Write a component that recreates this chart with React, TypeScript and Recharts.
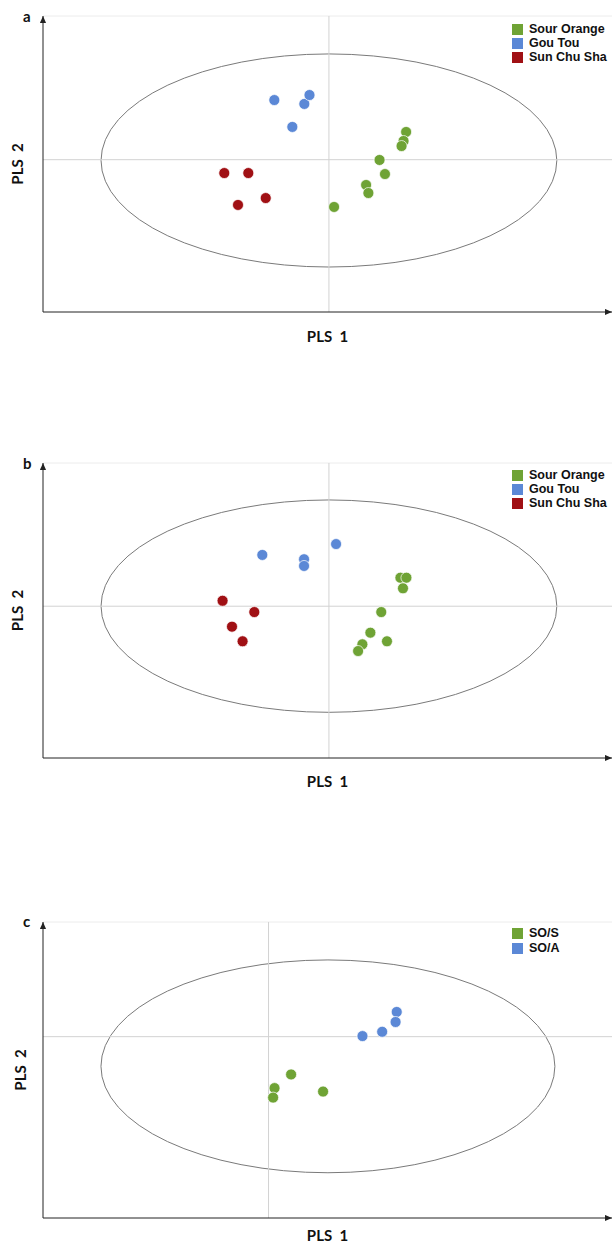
import React from 'react';
import {
  ScatterChart,
  Scatter,
  XAxis,
  YAxis,
  ReferenceLine,
  ReferenceArea,
} from 'recharts';

// panel a
const sourOrangeA = [
  { x: 0.27, y: 0.193 }, { x: 0.261, y: 0.13 }, { x: 0.254, y: 0.095 }, { x: 0.177, y: -0.002 },
  { x: 0.196, y: -0.1 }, { x: 0.13, y: -0.176 }, { x: 0.138, y: -0.232 }, { x: 0.018, y: -0.329 },
];
const gouTouA = [
  { x: -0.191, y: 0.415 }, { x: -0.086, y: 0.388 }, { x: -0.068, y: 0.45 }, { x: -0.128, y: 0.228 },
];
const sunChuShaA = [
  { x: -0.366, y: -0.093 }, { x: -0.282, y: -0.093 }, { x: -0.221, y: -0.267 }, { x: -0.318, y: -0.315 },
];

// panel b
const sourOrangeB = [
  { x: 0.25, y: 0.199 }, { x: 0.271, y: 0.199 }, { x: 0.259, y: 0.125 }, { x: 0.183, y: -0.041 },
  { x: 0.145, y: -0.185 }, { x: 0.203, y: -0.245 }, { x: 0.117, y: -0.266 }, { x: 0.102, y: -0.313 },
];
const gouTouB = [
  { x: -0.233, y: 0.358 }, { x: -0.087, y: 0.328 }, { x: -0.087, y: 0.281 }, { x: 0.025, y: 0.434 },
];
const sunChuShaB = [
  { x: -0.372, y: 0.038 }, { x: -0.261, y: -0.041 }, { x: -0.339, y: -0.143 }, { x: -0.302, y: -0.245 },
];

// panel c
const soS = [
  { x: 0.079, y: -0.263 }, { x: 0.021, y: -0.358 }, { x: 0.016, y: -0.424 }, { x: 0.191, y: -0.382 },
];
const soA = [
  { x: 0.449, y: 0.172 }, { x: 0.445, y: 0.102 }, { x: 0.398, y: 0.034 }, { x: 0.329, y: 0.004 },
];

// confidence ellipses [x1, x2, y1, y2]
const ellipseA = [-0.797, 0.797, -0.747, 0.736];
const ellipseB = [-0.797, 0.797, -0.741, 0.742];
const ellipseC = [-0.587, 1.003, -0.947, 0.534];

const GREEN = '#6fa335';
const BLUE = '#5b88d6';
const RED = '#a01014';
const FONT = 'Lato, "Open Sans", sans-serif';
const LEGEND_FONT = '"Liberation Sans", Arial, sans-serif';

const dot = (color: string) => (p: any) => (
  <circle cx={p.cx} cy={p.cy} r={5.5} fill={color} stroke="#fff" strokeWidth={0.7} />
);

const ellipseShape = (p: any) => (
  <ellipse
    cx={p.x + p.width / 2}
    cy={p.y + p.height / 2}
    rx={p.width / 2}
    ry={p.height / 2}
    fill="none"
    stroke="#7a7a7a"
    strokeWidth={1}
  />
);

type Series = { name: string; color: string; data: { x: number; y: number }[] };

function LegendBox({ series, top, gap }: { series: Series[]; top: number; gap: number }) {
  return (
    <div style={{ position: 'absolute', left: 512, top, fontFamily: LEGEND_FONT, fontWeight: 700, fontSize: 12.5, lineHeight: `${gap}px`, color: '#111' }}>
      {series.map((s) => (
        <div key={s.name} style={{ display: 'flex', alignItems: 'center', height: gap, whiteSpace: 'nowrap' }}>
          <span style={{ width: 11, height: 11, background: s.color, marginRight: 6, display: 'inline-block' }} />
          <span>{s.name}</span>
        </div>
      ))}
    </div>
  );
}

function Panel({
  id, top, plotHeight, labelGap, xDomain, yDomain, ellipse, series, yLabelX, legendTop, legendGap, letter, letterTop,
}: {
  id: string; top: number; plotHeight: number; labelGap: number; xDomain: number[]; yDomain: number[];
  ellipse: number[]; series: Series[]; yLabelX: number; legendTop: number; legendGap: number;
  letter: string; letterTop: number;
}) {
  const marker = `arrow-${id}`;
  const xAxisHeight = labelGap + 8;
  const height = 16 + plotHeight + xAxisHeight;
  return (
    <div style={{ position: 'absolute', left: 0, top, width: 614, height }}>
      <div style={{ position: 'absolute', left: 23, top: letterTop, fontFamily: FONT, fontWeight: 700, fontSize: 15, lineHeight: '15px', color: '#111' }}>
        {letter}
      </div>
      <ScatterChart width={614} height={height} margin={{ top: 16, right: 2, bottom: 0, left: 0 }}>
        <defs>
          <marker id={marker} viewBox="0 0 8 8" refX={8} refY={4} markerWidth={7} markerHeight={7}
            markerUnits="userSpaceOnUse" orient="auto-start-reverse">
            <path d="M0,0.5 L8,4 L0,7.5 z" fill="#222" />
          </marker>
        </defs>
        <XAxis
          type="number"
          dataKey="x"
          domain={xDomain}
          allowDataOverflow
          height={xAxisHeight}
          tick={false}
          tickLine={false}
          axisLine={{ stroke: '#222', strokeWidth: 1, markerEnd: `url(#${marker})` }}
          label={{ value: 'PLS\u00a0\u00a01', position: 'insideBottom', offset: 8, fill: '#111', fontSize: 15, fontWeight: 700, fontFamily: FONT }}
        />
        <YAxis
          type="number"
          dataKey="y"
          domain={yDomain}
          allowDataOverflow
          width={43}
          tick={false}
          tickLine={false}
          axisLine={{ stroke: '#222', strokeWidth: 1, markerStart: `url(#${marker})` }}
          label={{ value: 'PLS\u00a0\u00a02', angle: -90, position: 'insideLeft', offset: yLabelX, fill: '#111', fontSize: 15, fontWeight: 700, fontFamily: FONT, style: { textAnchor: 'middle' } }}
        />
        <ReferenceLine y={yDomain[1]} stroke="#ececec" />
        <ReferenceLine x={0} stroke="#d2d2d2" />
        <ReferenceLine y={0} stroke="#d2d2d2" />
        <ReferenceArea x1={ellipse[0]} x2={ellipse[1]} y1={ellipse[2]} y2={ellipse[3]} shape={ellipseShape} />
        {series.map((s) => (
          <Scatter key={s.name} name={s.name} data={s.data} fill={s.color} shape={dot(s.color)} isAnimationActive={false} />
        ))}
      </ScatterChart>
      <LegendBox series={series} top={legendTop} gap={legendGap} />
    </div>
  );
}

export default function App() {
  return (
    <div style={{ position: 'absolute', left: 0, top: 0, width: 614, height: 1244, background: '#fff' }}>
      <Panel
        id="a" top={0} plotHeight={296} labelGap={30}
        xDomain={[-1, 0.99]} yDomain={[-1.06, 1]} ellipse={ellipseA}
        series={[
          { name: 'Sour Orange', color: GREEN, data: sourOrangeA },
          { name: 'Gou Tou', color: BLUE, data: gouTouA },
          { name: 'Sun Chu Sha', color: RED, data: sunChuShaA },
        ]}
        yLabelX={18} legendTop={22} legendGap={14} letter="a" letterTop={9}
      />
      <Panel
        id="b" top={447} plotHeight={295} labelGap={29}
        xDomain={[-1, 0.99]} yDomain={[-1.06, 1]} ellipse={ellipseB}
        series={[
          { name: 'Sour Orange', color: GREEN, data: sourOrangeB },
          { name: 'Gou Tou', color: BLUE, data: gouTouB },
          { name: 'Sun Chu Sha', color: RED, data: sunChuShaB },
        ]}
        yLabelX={18} legendTop={21} legendGap={14} letter="b" letterTop={9}
      />
      <Panel
        id="c" top={906} plotHeight={296} labelGap={23}
        xDomain={[-0.79, 1.203]} yDomain={[-1.262, 0.798]} ellipse={ellipseC}
        series={[
          { name: 'SO/S', color: GREEN, data: soS },
          { name: 'SO/A', color: BLUE, data: soA },
        ]}
        yLabelX={21} legendTop={20} legendGap={15} letter="c" letterTop={8}
      />
    </div>
  );
}
